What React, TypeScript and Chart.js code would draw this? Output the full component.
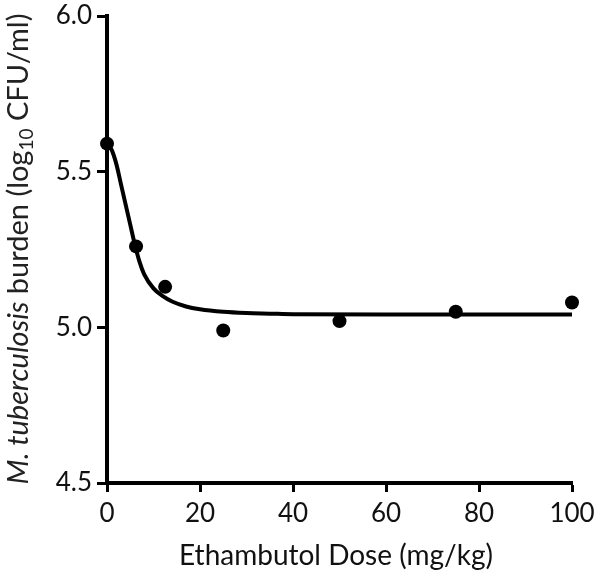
import React, { useEffect, useRef } from "react";
import { Chart, registerables } from "chart.js";

Chart.register(...registerables);

const doses = [0, 6.25, 12.5, 25, 50, 75, 100];
const burden = [5.59, 5.26, 5.13, 4.99, 5.02, 5.05, 5.08];

const fitDoses = [0, 1, 2, 3, 4, 5, 6, 7, 8, 10, 12, 14, 17, 20, 25, 30, 35, 40, 60, 80, 100];
const fitBurden = [5.59, 5.57, 5.525, 5.46, 5.395, 5.33, 5.265, 5.21, 5.17, 5.125, 5.1, 5.083, 5.067, 5.058, 5.05, 5.046, 5.044, 5.042, 5.041, 5.041, 5.041];

const xTicks = [0, 20, 40, 60, 80, 100];
const yTicks = [4.5, 5.0, 5.5, 6.0];

const xTitle = "Ethambutol Dose (mg/kg)";
const yTitleParts = [
  { text: "M. tuberculosis", italic: true, sub: false },
  { text: " burden (log", italic: false, sub: false },
  { text: "10", italic: false, sub: true },
  { text: " CFU/ml)", italic: false, sub: false },
];

const FONT = "Lato, 'DejaVu Sans', sans-serif";

const titlesPlugin = {
  id: "titles",
  afterDraw(chart: any) {
    const ctx = chart.ctx;
    ctx.save();
    ctx.fillStyle = "#111";
    ctx.font = `28px ${FONT}`;
    ctx.textAlign = "center";
    ctx.textBaseline = "alphabetic";
    ctx.fillText(xTitle, 336, 565);

    // y title
    const size = 29;
    const subSize = 19;
    const fontFor = (p: any) => `${p.italic ? "italic " : ""}${p.sub ? subSize : size}px ${FONT}`;
    let total = 0;
    const widths = yTitleParts.map((p) => {
      ctx.font = fontFor(p);
      const w = ctx.measureText(p.text).width;
      total += w;
      return w;
    });
    ctx.translate(28, 249);
    ctx.rotate(-Math.PI / 2);
    ctx.textAlign = "left";
    ctx.textBaseline = "alphabetic";
    ctx.fillStyle = "#222";
    let x = -total / 2;
    yTitleParts.forEach((p, i) => {
      ctx.font = fontFor(p);
      ctx.fillText(p.text, x, p.sub ? 5 : 0);
      x += widths[i];
    });
    ctx.restore();
  },
};

export default function App() {
  const ref = useRef<HTMLCanvasElement | null>(null);
  useEffect(() => {
    if (!ref.current) return;
    const chart = new Chart(ref.current, {
      type: "scatter",
      data: {
        datasets: [
          {
            type: "line",
            data: fitDoses.map((x, i) => ({ x, y: fitBurden[i] })),
            borderColor: "#000",
            borderWidth: 4,
            pointRadius: 0,
            cubicInterpolationMode: "monotone",
            fill: false,
            clip: false as any,
          } as any,
          {
            type: "scatter",
            data: doses.map((x, i) => ({ x, y: burden[i] })),
            backgroundColor: "#000",
            borderColor: "#000",
            pointRadius: 7,
            borderWidth: 0,
            clip: false as any,
          } as any,
        ],
      },
      options: {
        animation: false,
        responsive: false,
        maintainAspectRatio: false,
        layout: { padding: { top: 16, right: 29, left: 0, bottom: 0 } },
        plugins: { legend: { display: false }, tooltip: { enabled: false } },
        scales: {
          x: {
            type: "linear",
            min: 0,
            max: 100,
            afterBuildTicks: (s: any) => {
              s.ticks = xTicks.map((v) => ({ value: v }));
            },
            afterFit: (s: any) => {
              s.height = 97;
              s.paddingLeft = 0;
              s.paddingRight = 0;
              s.paddingTop = 0;
              s.paddingBottom = 0;
            },
            ticks: {
              color: "#111",
              font: { family: FONT, size: 26 },
              padding: 6,
              maxRotation: 0,
            },
            grid: {
              display: true,
              drawOnChartArea: false,
              drawTicks: true,
              tickLength: 9,
              tickWidth: 3,
              tickColor: "#000",
            },
            border: { display: true, color: "#000", width: 4 },
          },
          y: {
            type: "linear",
            min: 4.5,
            max: 6.0,
            afterBuildTicks: (s: any) => {
              s.ticks = yTicks.map((v) => ({ value: v }));
            },
            afterFit: (s: any) => {
              s.width = 107;
              s.paddingLeft = 0;
              s.paddingRight = 0;
              s.paddingTop = 0;
              s.paddingBottom = 0;
            },
            ticks: {
              color: "#111",
              font: { family: FONT, size: 26 },
              padding: 5,
              callback: (v: any) => Number(v).toFixed(1),
            },
            grid: {
              display: true,
              drawOnChartArea: false,
              drawTicks: true,
              tickLength: 10,
              tickWidth: 3,
              tickColor: "#000",
            },
            border: { display: true, color: "#000", width: 4 },
          },
        },
      } as any,
      plugins: [titlesPlugin],
    });
    return () => chart.destroy();
  }, []);
  return (
    <div style={{ position: "absolute", left: 0, top: 0, width: 601, height: 580, background: "#fff" }}>
      <canvas ref={ref} width={601} height={580} style={{ width: 601, height: 580 }} />
    </div>
  );
}
